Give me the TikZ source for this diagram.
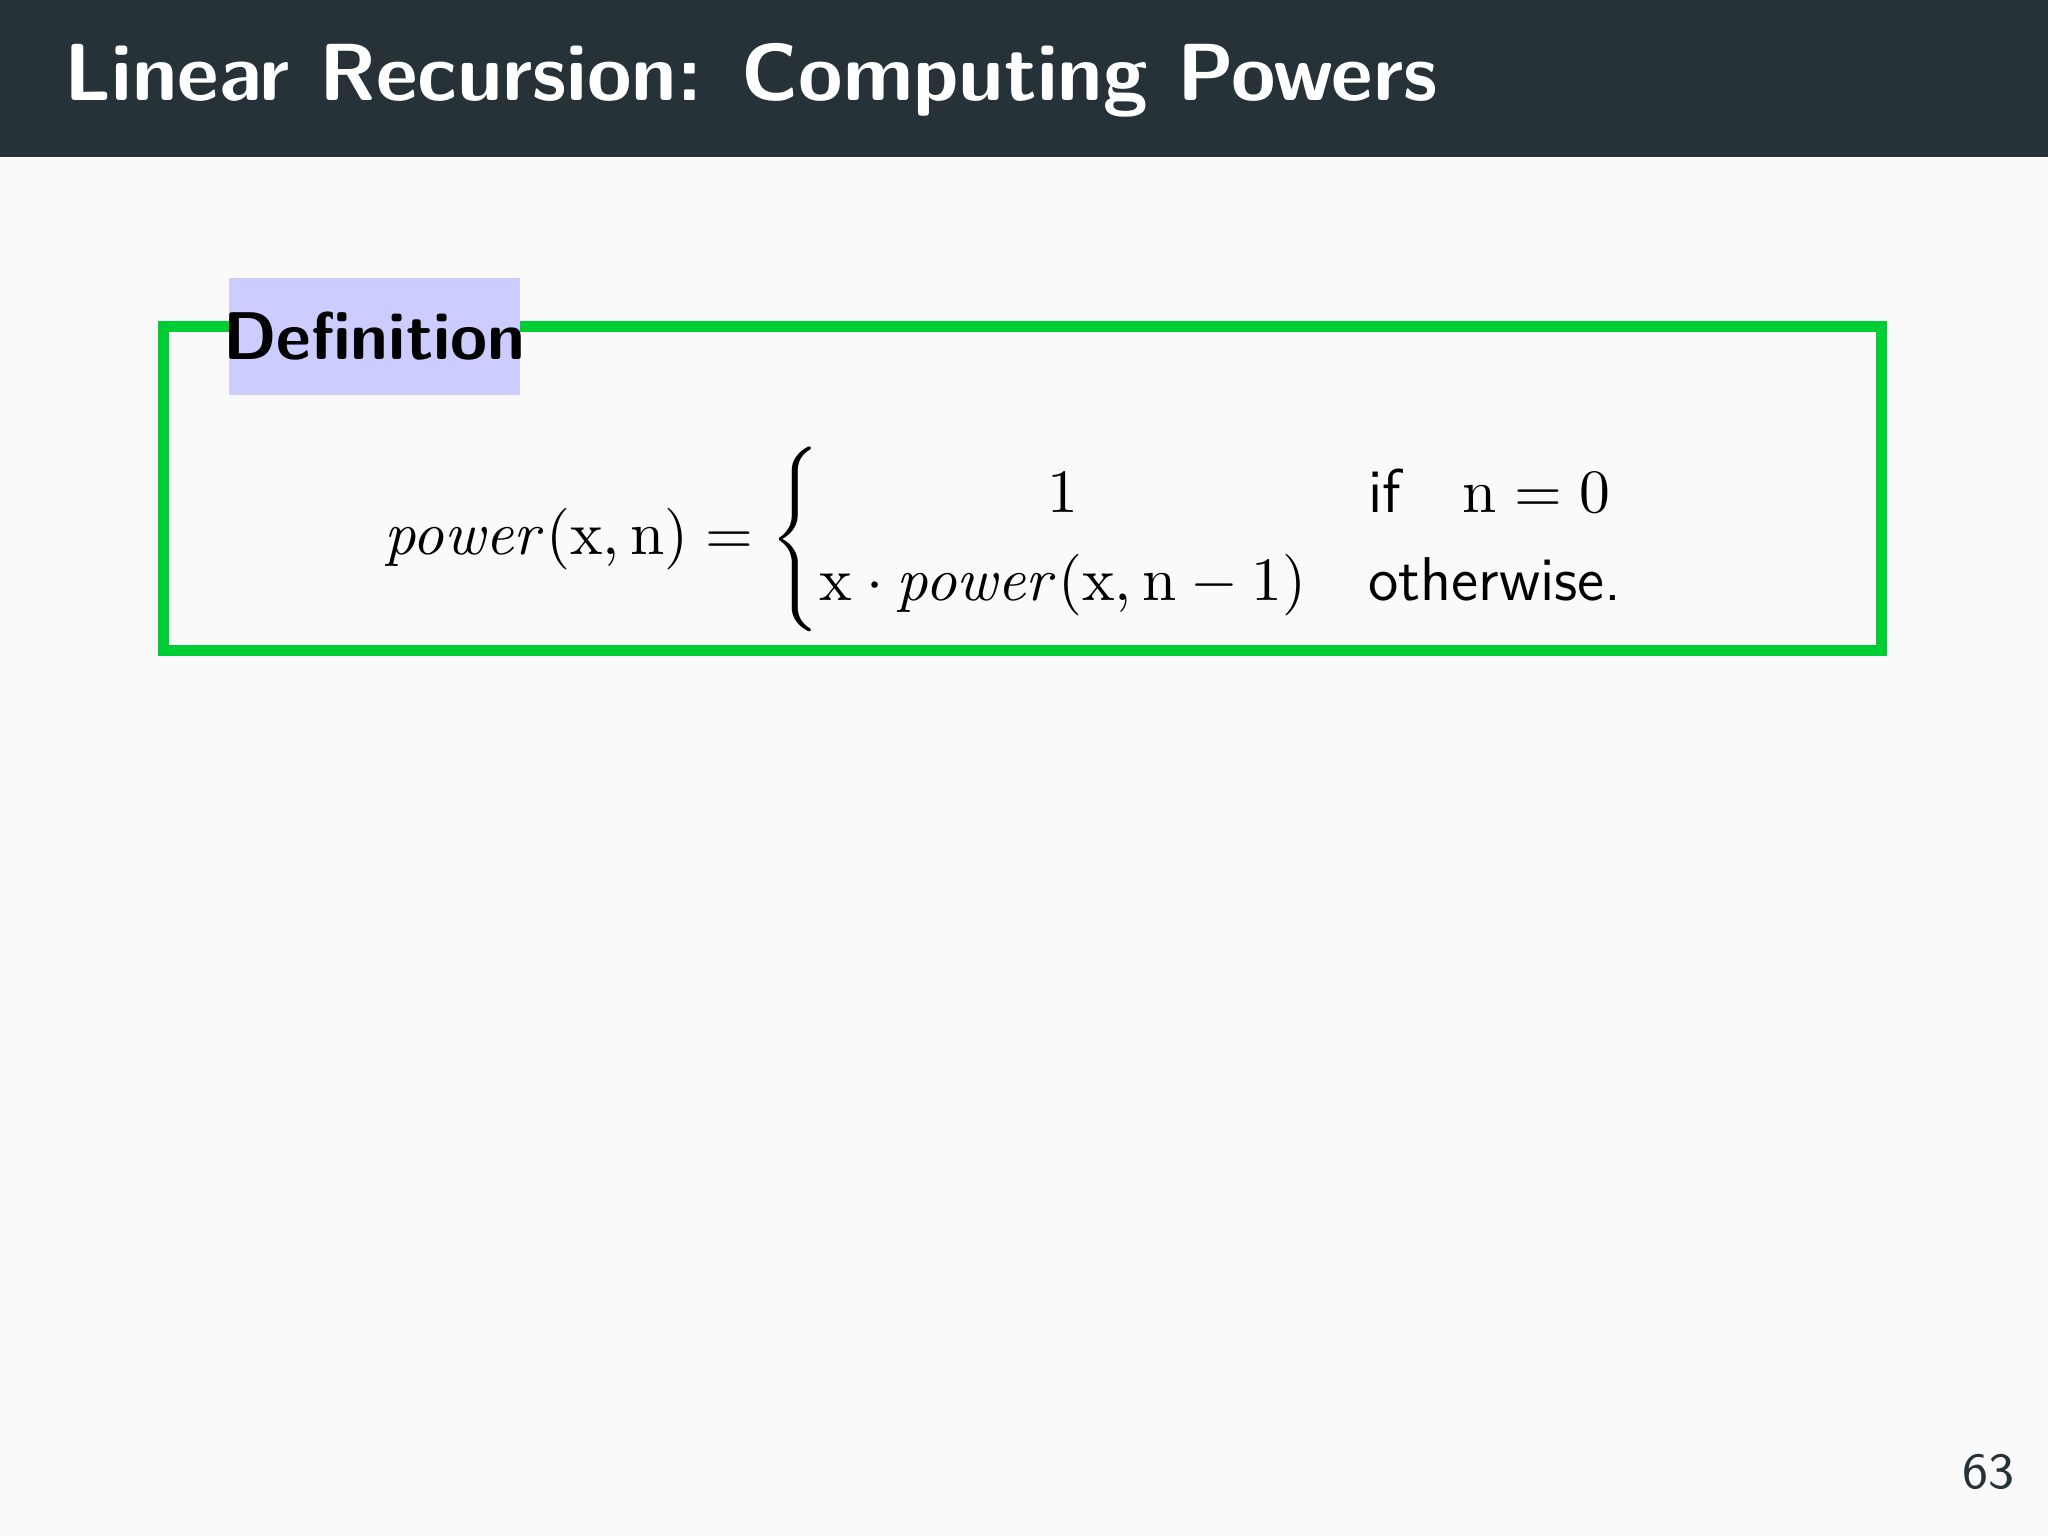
\documentclass[tikz,border=0pt]{standalone}
\usepackage{amsmath}
\usepackage{sansmath}
\usepackage{xcolor}
\definecolor{titlebg}{HTML}{263238}
\definecolor{boxgreen}{HTML}{00CC33}
\definecolor{labelbg}{HTML}{CCCCFF}
\definecolor{pagebg}{HTML}{FAFAFA}
\newsavebox{\powerbox}
\tikzset{
  titletext/.style={anchor=west, text=white, font=\fontsize{14.4}{17}\selectfont\sffamily\bfseries},
  labeltext/.style={font=\fontsize{12}{14}\selectfont\sffamily\bfseries},
  eqtext/.style={font=\fontsize{11}{13}\selectfont\sffamily}
}
\begin{document}
\sbox{\powerbox}{\fontsize{11}{13}\selectfont\sffamily\sansmath$\displaystyle
    \mathit{power}(x,n)=\begin{cases}
      \hfil 1 & \text{if}\quad n=0\\
      x\cdot\mathit{power}(x,n-1) & \text{otherwise.}
    \end{cases}$}
\begin{tikzpicture}
  \fill[pagebg] (0,0) rectangle (12.8,-9.6);
  \useasboundingbox (0,0) rectangle (12.8,-9.6);

  % title bar
  \fill[titlebg] (0,0) rectangle (12.8,-0.98);
  \node[titletext] (title) at (0.28,-0.50) {Linear Recursion: Computing Powers};

  % definition box
  \draw[boxgreen, line width=1.9pt] (1.02,-2.04) rectangle (11.76,-4.065);
  \fill[labelbg] (1.43,-1.74) rectangle (3.25,-2.47);
  \node[labeltext] (deflabel) at (2.34,-2.10) {Definition};

  \node[eqtext] (eq) at (6.29,-3.37) {\usebox{\powerbox}};

  % page number
  \node[font=\fontsize{9}{11}\selectfont\sffamily, text=titlebg] (pagenum) at (12.43,-9.2) {63};
\end{tikzpicture}
\end{document}
